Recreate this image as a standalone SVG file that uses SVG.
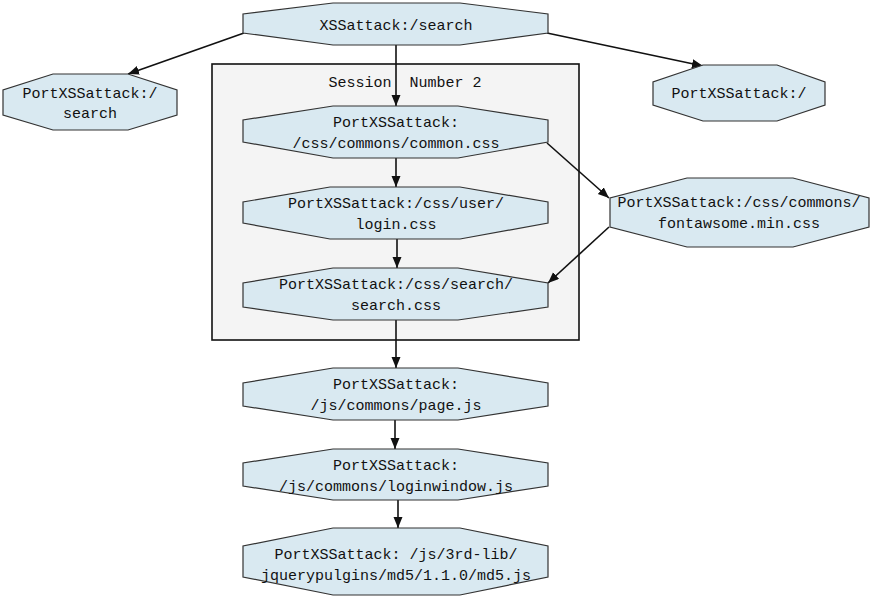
<svg xmlns="http://www.w3.org/2000/svg" width="871" height="597" viewBox="0 0 871 597">
<style>
.n{fill:#d9e9f1;stroke:#333;stroke-width:1.2}
.t{font-family:"Liberation Mono","Noto Sans CJK SC",monospace;font-size:15px;fill:#111;text-anchor:middle;white-space:pre}
.e{stroke:#111;stroke-width:1.6;fill:none;marker-end:url(#ah)}
</style>
<defs>
<marker id="ah" markerUnits="userSpaceOnUse" markerWidth="12" markerHeight="10" refX="11" refY="4.5" orient="auto">
<path d="M0,0 L11,4.5 L0,9 z" fill="#111"/>
</marker>
</defs>
<rect width="871" height="597" fill="#fff"/>
<g id="cluster">
<rect x="212" y="64" width="367" height="276" fill="#f4f4f4" stroke="#111" stroke-width="1.6"/>
<text class="t" x="405" y="87" xml:space="preserve">Session  Number 2</text>
</g>
<g id="edges">
<line class="e" x1="244" y1="33" x2="128" y2="74"/>
<line class="e" x1="547" y1="33" x2="703" y2="66"/>
<line class="e" x1="396" y1="45" x2="396" y2="106"/>
<line class="e" x1="396" y1="158" x2="396" y2="187"/>
<line class="e" x1="397" y1="239" x2="397" y2="268"/>
<line class="e" x1="547" y1="143" x2="609" y2="198"/>
<line class="e" x1="609" y1="227" x2="548" y2="283"/>
<line class="e" x1="396" y1="320" x2="396" y2="368"/>
<line class="e" x1="395" y1="420" x2="395" y2="449"/>
<line class="e" x1="398" y1="500" x2="398" y2="528"/>
</g>
<g id="n_top">
<polygon class="n" points="333,3 460,3 548,14 548,33 460,45 333,45 243,33 243,14"/>
<text class="t" x="396" y="30">XSSattack:/search</text>
</g>
<g id="n_left">
<polygon class="n" points="53,74 128,74 177,90 177,115 128,130 53,130 3,115 3,90"/>
<text class="t" x="90" y="98">PortXSSattack:/</text>
<text class="t" x="90" y="118">search</text>
</g>
<g id="n_right">
<polygon class="n" points="703,65 777,65 825,82 825,105 777,121 703,121 653,105 653,82"/>
<text class="t" x="739" y="98">PortXSSattack:/</text>
</g>
<g id="n_common">
<polygon class="n" points="333,106 458,106 548,120 548,142 458,158 333,158 243,142 243,120"/>
<text class="t" x="396" y="127">PortXSSattack:</text>
<text class="t" x="396" y="148">/css/commons/common.css</text>
</g>
<g id="n_login">
<polygon class="n" points="330,187 460,187 548,202 548,223 460,239 330,239 243,223 243,202"/>
<text class="t" x="396" y="208">PortXSSattack:/css/user/</text>
<text class="t" x="396" y="229">login.css</text>
</g>
<g id="n_search">
<polygon class="n" points="333,268 458,268 548,283 548,307 458,320 333,320 243,307 243,283"/>
<text class="t" x="396" y="289">PortXSSattack:/css/search/</text>
<text class="t" x="396" y="310">search.css</text>
</g>
<g id="n_font">
<polygon class="n" points="687,178 793,178 869,198 869,227 793,247 687,247 610,227 610,198"/>
<text class="t" x="739" y="207">PortXSSattack:/css/commons/</text>
<text class="t" x="739" y="228">fontawsome.min.css</text>
</g>
<g id="n_page">
<polygon class="n" points="333,368 458,368 548,383 548,406 458,420 333,420 243,406 243,383"/>
<text class="t" x="396" y="389">PortXSSattack:</text>
<text class="t" x="396" y="410">/js/commons/page.js</text>
</g>
<g id="n_loginwindow">
<polygon class="n" points="333,449 458,449 548,463 548,486 458,500 333,500 243,486 243,463"/>
<text class="t" x="396" y="470">PortXSSattack:</text>
<text class="t" x="396" y="491">/js/commons/loginwindow.js</text>
</g>
<g id="n_md5">
<polygon class="n" points="333,528 460,528 548,546 548,577 460,595 333,595 243,577 243,546"/>
<text class="t" x="396" y="559">PortXSSattack: /js/3rd-lib/</text>
<text class="t" x="396" y="580">jquerypulgins/md5/1.1.0/md5.js</text>
</g>
</svg>
